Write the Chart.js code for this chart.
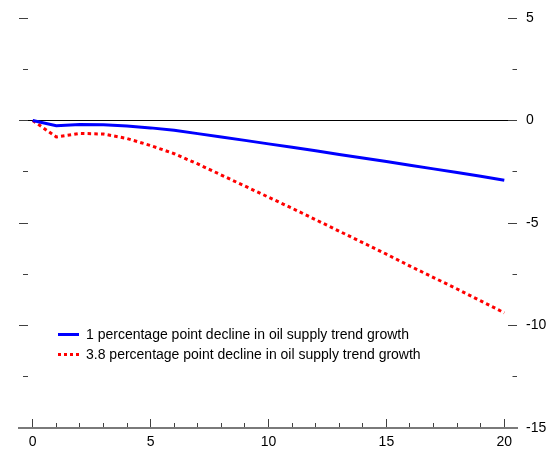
<!DOCTYPE html>
<html>
<head>
<meta charset="utf-8">
<script src="https://cdn.jsdelivr.net/npm/chart.js@4/dist/chart.umd.min.js"></script>
<style>
  html, body { margin: 0; padding: 0; background: #fff; }
  #wrap { position: relative; width: 556px; height: 451px; }
  #legend { position: absolute; left: 58px; top: 324px; font-family: "Liberation Sans", Arial, sans-serif; font-size: 14px; color: #000; }
  .row { position: relative; height: 20px; line-height: 20px; white-space: nowrap; }
  .swatch { position: absolute; left: 0; top: 9px; width: 21px; height: 0; }
  .solid { border-top: 3px solid #0000ff; }
  .dotted { border-top: 3px dotted #ff0000; }
  .txt { position: absolute; left: 28px; top: 0; }
</style>
</head>
<body>
<div id="wrap">
  <canvas id="c" width="556" height="451"></canvas>
  <div id="legend"></div>
</div>
<script>
// ---- data ----
const quarters = [0,1,2,3,4,5,6,7,8,9,10,11,12,13,14,15,16,17,18,19,20];
const decline1pp = [0,-0.25,-0.2,-0.21,-0.27,-0.36,-0.48,-0.64,-0.8,-0.97,-1.14,-1.31,-1.48,-1.66,-1.83,-2.0,-2.18,-2.36,-2.54,-2.72,-2.91];
const decline38pp = [0,-0.8,-0.63,-0.66,-0.88,-1.22,-1.62,-2.12,-2.66,-3.2,-3.74,-4.28,-4.84,-5.4,-5.96,-6.52,-7.1,-7.66,-8.22,-8.8,-9.38];
const seriesLabels = ["1 percentage point decline in oil supply trend growth", "3.8 percentage point decline in oil supply trend growth"];
const xTickValues = [0,1,2,3,4,5,6,7,8,9,10,11,12,13,14,15,16,17,18,19,20];
const xLabelValues = [0,5,10,15,20];
const yLabelValues = [5,0,-5,-10,-15];

const toPoints = (vals) => quarters.map((q, i) => ({x: q, y: vals[i]}));

const FONT = {family: "'Liberation Sans', Arial, sans-serif", size: 14};
const TICK_COLOR = '#404040';
const majorY = (v) => yLabelValues.includes(v);
const noPad = (s) => { s.paddingTop = 0; s.paddingBottom = 0; s.paddingLeft = 0; s.paddingRight = 0; };
const yTicks = (s) => { const t = []; for (let v = 5; v >= -15; v -= 2.5) t.push({value: v}); s.ticks = t; };

new Chart(document.getElementById('c'), {
  type: 'line',
  data: {
    datasets: [
      {label: seriesLabels[0], data: toPoints(decline1pp), borderColor: '#0000ff', borderWidth: 3, pointRadius: 0, tension: 0, yAxisID: 'y'},
      {label: seriesLabels[1], data: toPoints(decline38pp), borderColor: '#ff0000', borderWidth: 3, borderDash: [3.5, 3.2], pointRadius: 0, tension: 0, yAxisID: 'y'}
    ]
  },
  options: {
    responsive: false,
    animation: false,
    layout: {padding: {top: 18, left: 0, right: 0, bottom: 0}},
    plugins: {legend: {display: false}, tooltip: {enabled: false}},
    scales: {
      x: {
        type: 'linear', position: 'bottom',
        min: -0.581, max: 20.539,
        afterBuildTicks: (s) => { s.ticks = xTickValues.map(v => ({value: v})); },
        afterFit: (s) => { s.height = 23; noPad(s); },
        border: {display: true, color: '#7a7a7a', width: 2},
        grid: {drawOnChartArea: false, drawTicks: true, tickLength: -9, tickColor: TICK_COLOR, tickWidth: 1,
               tickBorderDash: (ctx) => (ctx.tick && xLabelValues.includes(ctx.tick.value)) ? [] : [6, 100]},
        ticks: {autoSkip: false, maxRotation: 0, padding: 15, color: '#000', font: FONT,
                callback: (v) => xLabelValues.includes(v) ? String(v) : ''}
      },
      y: {
        type: 'linear', position: 'left', min: -15, max: 5,
        afterBuildTicks: yTicks,
        afterFit: (s) => { s.width = 19; noPad(s); },
        border: {display: false},
        grid: {drawOnChartArea: true, drawTicks: true, tickLength: -9,
               color: (ctx) => (ctx.tick && ctx.tick.value === 0) ? '#000' : 'rgba(0,0,0,0)', lineWidth: 1,
               tickColor: TICK_COLOR, tickWidth: 1,
               tickBorderDash: (ctx) => (ctx.tick && majorY(ctx.tick.value)) ? [] : [5, 100]},
        ticks: {display: false}
      },
      y2: {
        type: 'linear', position: 'right', min: -15, max: 5,
        afterBuildTicks: yTicks,
        afterFit: (s) => { s.width = 39; noPad(s); },
        border: {display: false},
        grid: {drawOnChartArea: false, drawTicks: true, tickLength: -9, tickColor: TICK_COLOR, tickWidth: 1,
               tickBorderDash: (ctx) => (ctx.tick && majorY(ctx.tick.value)) ? [] : [4.5, 100]},
        ticks: {padding: 18, color: '#000', font: FONT, autoSkip: false,
                callback: (v) => majorY(v) ? String(v) : ''}
      }
    }
  }
});

// HTML legend built from the series labels
const legend = document.getElementById('legend');
seriesLabels.forEach((lab, i) => {
  const row = document.createElement('div'); row.className = 'row';
  const sw = document.createElement('div'); sw.className = 'swatch ' + (i === 0 ? 'solid' : 'dotted');
  const tx = document.createElement('span'); tx.className = 'txt'; tx.textContent = lab;
  row.appendChild(sw); row.appendChild(tx); legend.appendChild(row);
});
</script>
</body>
</html>
